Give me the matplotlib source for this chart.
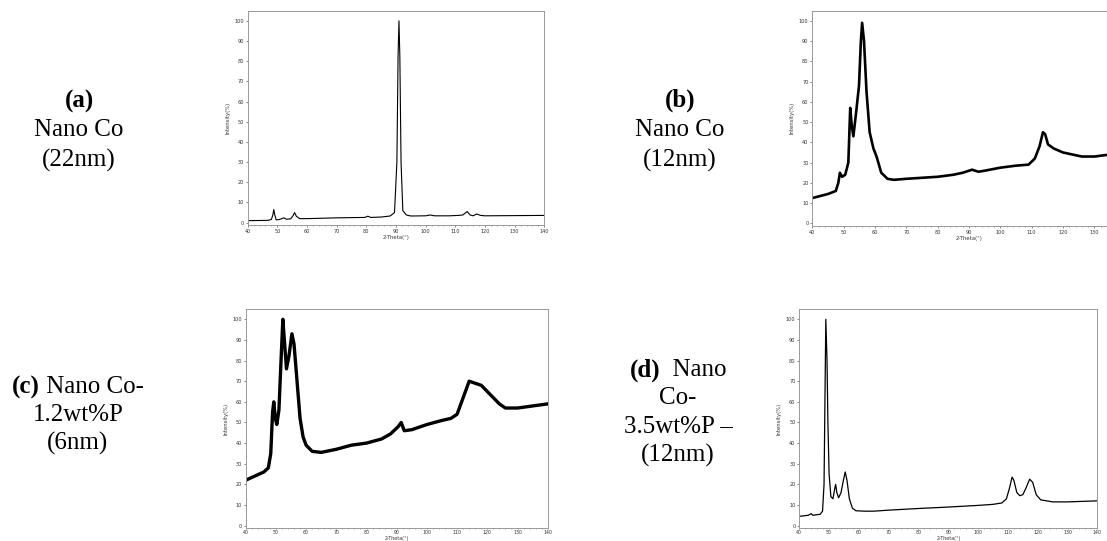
import matplotlib
matplotlib.use('Agg')
import matplotlib.pyplot as plt
from matplotlib.ticker import MultipleLocator, FixedLocator

# (a) Nano Co 22nm
a_theta = [40, 45, 47, 48, 48.5, 48.8, 49.1, 49.6, 50.5, 51.5, 52.2, 53, 54.5, 55.3, 55.8,
           56.4, 57.5, 60, 65, 70, 75, 79.5, 80.5, 81.5, 85, 88, 89.5, 90.3, 90.7, 91, 91.3,
           91.7, 92.3, 93.5, 95, 100, 101.5, 103, 108, 111, 112.5, 114, 115, 116, 117.2,
           118.5, 120, 130, 140]
a_int = [1.0, 1.1, 1.2, 1.6, 4, 6.5, 4, 1.4, 1.5, 2.0, 2.4, 1.7, 1.9, 3.5, 5.0,
         3.2, 2.0, 2.0, 2.2, 2.4, 2.5, 2.6, 3.2, 2.6, 2.8, 3.3, 5, 30, 83, 100, 82,
         30, 6, 3.8, 3.3, 3.4, 3.8, 3.4, 3.4, 3.6, 3.8, 5.5, 3.8, 3.4, 4.3,
         3.6, 3.4, 3.5, 3.6]

# (b) Nano Co 12nm
b_theta = [40, 45, 47.5, 48.3, 48.8, 49.5, 50.5, 51.5, 52.1, 52.6, 53.1, 54, 54.9, 55.5,
           55.9, 56.5, 57.3, 58.3, 59.5, 60.5, 62, 64, 66, 70, 75, 80, 85, 88, 91, 93, 95,
           100, 105, 109, 111, 112.5, 113.6, 114.3, 115.2, 117, 120, 123, 126, 130, 135, 140]
b_int = [12.5, 14.5, 16, 20, 25, 23, 24, 30, 57, 48, 43, 55, 68, 90,
         99, 90, 65, 45, 37, 33, 25, 22, 21.5, 22, 22.5, 23, 24, 25, 26.5, 25.5, 26,
         27.5, 28.5, 29, 32, 38, 45, 44, 39, 37, 35, 34, 33, 33, 34, 35]

# (c) Nano Co-1.2wt%P 6nm
c_theta = [40, 43, 46, 47.5, 48.3, 48.9, 49.3, 49.8, 50.3, 51, 51.7, 52.3, 52.8, 53.5, 54.3,
           55.3, 56, 57, 58, 59, 60, 62, 65, 70, 75, 80, 85, 88, 90.5, 91.5, 92.5, 95, 100,
           105, 108, 110, 111, 112.5, 114, 116, 118, 120, 122, 124, 126, 130, 135, 140]
c_int = [22, 24, 26, 28, 35, 55, 60, 52, 49, 56, 80, 100, 90, 76, 82,
         93, 88, 70, 52, 43, 39, 36, 35.5, 37, 39, 40, 42, 44.5, 48, 50, 46, 46.5, 49,
         51, 52, 54, 58, 64, 70, 69, 68, 65, 62, 59, 57, 57, 58, 59]

# (d) Nano Co-3.5wt%P 12nm
d_theta = [40, 43, 44, 44.5, 47, 47.8, 48.3, 48.6, 48.9, 49.3, 49.6, 50, 50.6, 51.3, 51.9,
           52.2, 52.6, 53.2, 54, 54.8, 55.4, 56, 56.8, 57.8, 59, 62, 65, 70, 80, 90, 100,
           105, 108, 109.5, 110.5, 111.4, 112, 113, 114, 115, 116, 117.3, 118.3, 119.5,
           121, 125, 130, 140]
d_int = [4.5, 5, 5.8, 5, 5.5, 7, 20, 60, 100, 80, 50, 25, 14, 13, 18,
         20, 16, 13.5, 16, 22, 26, 22, 13, 8.5, 7.2, 7, 7, 7.5, 8.3, 9, 9.8,
         10.3, 11, 13, 18, 23.5, 22, 16, 14.5, 15, 18, 22.5, 21, 15,
         12.5, 11.5, 11.5, 12]

labels_a = ['(a)', 'Nano Co', '(22nm)']
labels_b = ['(b)', 'Nano Co', '(12nm)']
labels_c = ['(c) Nano Co-', '1.2wt%P', '(6nm)']
labels_d = ['(d)  Nano', 'Co-', '3.5wt%P \u2013', '(12nm)']

W, H = 1107, 541
fig = plt.figure(figsize=(W / 100, H / 100), dpi=100)


def px_axes(left, right, top, bottom):
    return fig.add_axes([left / W, 1 - bottom / H, (right - left) / W, (bottom - top) / H])


def style(ax, tight=False, xmax_tick=140):
    ax.set_xlim(40, 140)
    ax.set_ylim(-1.3, 105)
    ax.xaxis.set_major_locator(FixedLocator(list(range(40, xmax_tick + 1, 10))))
    ax.xaxis.set_minor_locator(MultipleLocator(2))
    ax.yaxis.set_major_locator(MultipleLocator(10))
    for s in ax.spines.values():
        s.set_color('#999999')
        s.set_linewidth(0.7)
    ax.tick_params(axis='both', which='major', labelsize=3.6, length=1.5, width=0.5,
                   color='#555555', labelcolor='#333333', pad=1.2)
    ax.tick_params(axis='x', which='minor', length=1.0, width=0.4, color='#555555')
    if tight:
        # lower row sits against the figure edge: squeeze the x labels up
        ax.tick_params(axis='x', which='major', length=1.0, pad=0.4, labelsize=3.4)
        ax.set_xlabel('2-Theta(\u00b0)', fontsize=3.4, color='#333333', labelpad=0.2)
    else:
        ax.set_xlabel('2-Theta(\u00b0)', fontsize=3.8, color='#333333', labelpad=1)
    ax.set_ylabel('Intensity(%)', fontsize=3.8, color='#333333', labelpad=3)


ax_a = px_axes(247.7, 544.3, 10.7, 225.3)
ax_a.plot(a_theta, a_int, color='black', lw=0.8)
style(ax_a)

ax_b = px_axes(812.3, 1125.7, 10.7, 226)
ax_b.plot(b_theta, b_int, color='black', lw=1.9)
style(ax_b, xmax_tick=130)

ax_c = px_axes(245.7, 547.7, 309, 528.3)
ax_c.plot(c_theta, c_int, color='black', lw=2.4)
style(ax_c, tight=True)

ax_d = px_axes(799.3, 1097.3, 309, 528.3)
ax_d.plot(d_theta, d_int, color='black', lw=0.9)
style(ax_d, tight=True)

serif = ['Liberation Serif', 'DejaVu Serif']
FS = 18


def side_label(lines, xc, ys):
    r = fig.canvas.get_renderer()
    for txt, y in zip(lines, ys):
        # a bold tag like "(a)" may start the line
        if len(txt) >= 3 and txt[0] == '(' and txt[2] == ')':
            head, rest = txt[:3], txt[3:]
        else:
            head, rest = '', txt
        if head and rest:
            t1 = fig.text(0, 0, head, fontsize=FS, fontweight='bold', family=serif, va='center')
            t2 = fig.text(0, 0, rest, fontsize=FS, family=serif, va='center')
            w1 = t1.get_window_extent(r).width
            w2 = t2.get_window_extent(r).width
            x0 = xc - (w1 + w2) / 2
            t1.set_position((x0 / W, 1 - y / H))
            t2.set_position(((x0 + w1) / W, 1 - y / H))
        else:
            fig.text(xc / W, 1 - y / H, txt, fontsize=FS, family=serif,
                     fontweight='bold' if head else 'normal', ha='center', va='center')


side_label(labels_a, 79, [101, 130, 160])
side_label(labels_b, 680, [100, 130, 160])
side_label(labels_c, 78, [387, 415, 443])
side_label(labels_d, 678, [370, 398, 427, 455])

fig.savefig('out.png', dpi=100)
